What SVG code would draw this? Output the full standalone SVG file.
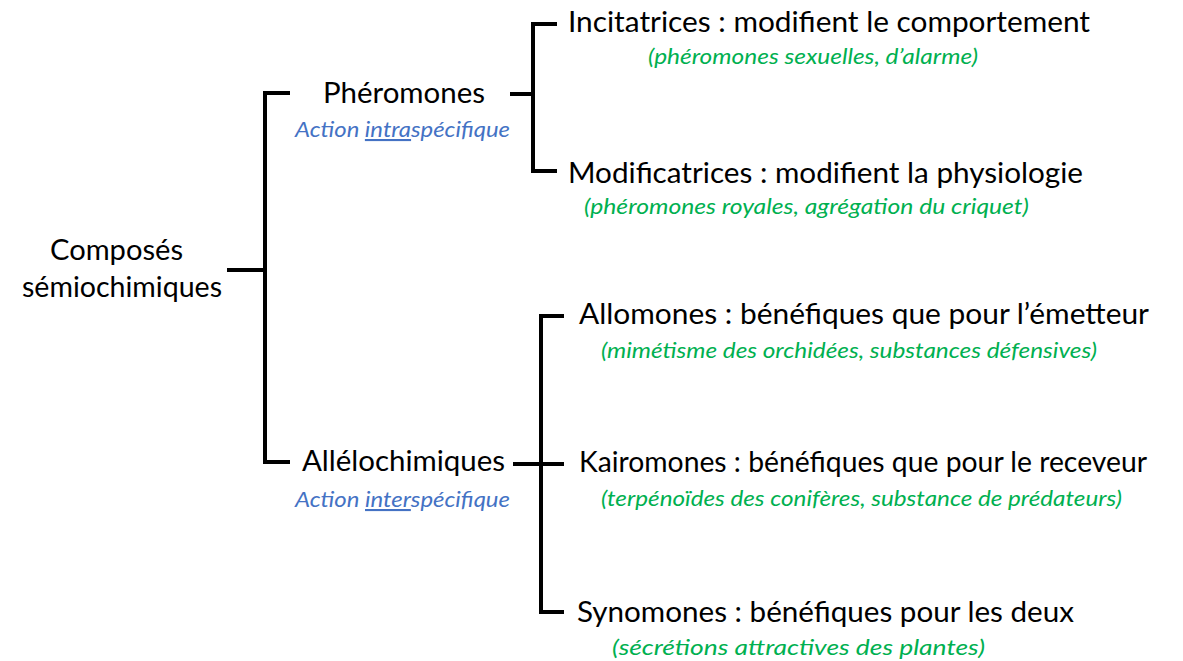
<svg xmlns="http://www.w3.org/2000/svg" width="1183" height="661" viewBox="0 0 1183 661">
<style>
.main{font-family:"Lato","Open Sans","Liberation Sans",sans-serif;font-size:28px;fill:#000}
.blue{font-family:"Lato","Open Sans","Liberation Sans",sans-serif;font-size:21px;font-style:italic;fill:#4472C4}
.green{font-family:"Lato","Open Sans","Liberation Sans",sans-serif;font-size:21px;font-style:italic;fill:#00B050}
.u{text-decoration:underline}
.ln{fill:none;stroke:#000;stroke-width:4;stroke-linecap:butt;stroke-linejoin:miter}
</style>
<rect width="1183" height="661" fill="#fff"/>
<g id="connectors">
<path class="ln" d="M227 270 H265"/>
<path class="ln" d="M290 93 H265 V462 H290"/>
<path class="ln" d="M510 94 H533"/>
<path class="ln" d="M557 24 H533 V171 H557"/>
<path class="ln" d="M513 464 H564"/>
<path class="ln" d="M564 316 H541 V612 H564"/>
</g>
<g id="root">
<text class="main" x="50" y="260" textLength="133" lengthAdjust="spacingAndGlyphs">Composés</text>
<text class="main" x="22" y="297" textLength="200" lengthAdjust="spacingAndGlyphs">sémiochimiques</text>
</g>
<g id="pheromones">
<text class="main" x="323" y="103" textLength="162" lengthAdjust="spacingAndGlyphs">Phéromones</text>
<text class="blue" x="295" y="137" textLength="215" lengthAdjust="spacingAndGlyphs">Action <tspan class="u">intra</tspan>spécifique</text>
</g>
<g id="allelochimiques">
<text class="main" x="302" y="471" textLength="203" lengthAdjust="spacingAndGlyphs">Allélochimiques</text>
<text class="blue" x="295" y="507" textLength="215" lengthAdjust="spacingAndGlyphs">Action <tspan class="u">inter</tspan>spécifique</text>
</g>
<g id="incitatrices">
<text class="main" x="568" y="32" textLength="522" lengthAdjust="spacingAndGlyphs">Incitatrices : modifient le comportement</text>
<text class="green" x="648" y="64" textLength="330" lengthAdjust="spacingAndGlyphs">(phéromones sexuelles, d’alarme)</text>
</g>
<g id="modificatrices">
<text class="main" x="568" y="183" textLength="515" lengthAdjust="spacingAndGlyphs">Modificatrices : modifient la physiologie</text>
<text class="green" x="584" y="214" textLength="445" lengthAdjust="spacingAndGlyphs">(phéromones royales, agrégation du criquet)</text>
</g>
<g id="allomones">
<text class="main" x="579" y="324" textLength="570" lengthAdjust="spacingAndGlyphs">Allomones : bénéfiques que pour l’émetteur</text>
<text class="green" x="601" y="358" textLength="496" lengthAdjust="spacingAndGlyphs">(mimétisme des orchidées, substances défensives)</text>
</g>
<g id="kairomones">
<text class="main" x="579" y="472" textLength="568" lengthAdjust="spacingAndGlyphs">Kairomones : bénéfiques que pour le receveur</text>
<text class="green" x="601" y="506" textLength="521" lengthAdjust="spacingAndGlyphs">(terpénoïdes des conifères, substance de prédateurs)</text>
</g>
<g id="synomones">
<text class="main" x="577" y="622" textLength="497" lengthAdjust="spacingAndGlyphs">Synomones : bénéfiques pour les deux</text>
<text class="green" x="612" y="655" textLength="373" lengthAdjust="spacingAndGlyphs">(sécrétions attractives des plantes)</text>
</g>
</svg>
